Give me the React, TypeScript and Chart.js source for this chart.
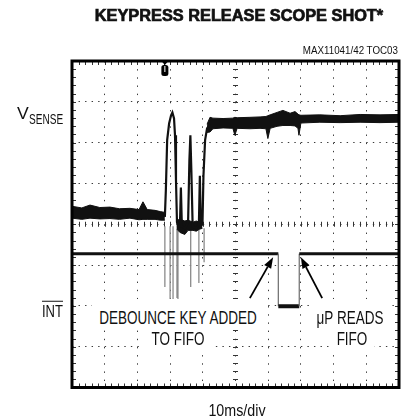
import React, { useEffect, useRef } from "react";
import { Chart, registerables } from "chart.js";

Chart.register(...registerables);

// ---- scope geometry (divisions) ----
const X_DIVS = 10;
const Y_DIVS = 8;
const MINOR = 5;

// ---- V_SENSE: pre-release noise band (low level) ----
const lowBandX = [0, 0.3, 0.55, 0.85, 1.16, 1.45, 1.77, 2.05, 2.17, 2.3, 2.54, 2.7, 2.84];
const lowBandHi = [4.44, 4.4, 4.47, 4.41, 4.42, 4.38, 4.39, 4.36, 4.55, 4.36, 4.34, 4.31, 4.29];
const lowBandLo = [4.15, 4.12, 4.15, 4.13, 4.14, 4.12, 4.15, 4.11, 4.12, 4.12, 4.12, 4.1, 4.1];

// ---- V_SENSE: bounce low band ----
const bounceBandX = [3.21, 3.3, 3.45, 3.55, 3.7, 3.8, 3.9, 3.99];
const bounceBandHi = [4.1, 4.12, 4.08, 4.1, 4.05, 4.08, 4.05, 4.05];
const bounceBandLo = [3.88, 3.8, 3.75, 3.85, 3.85, 3.83, 3.88, 3.9];

// ---- V_SENSE: released (high level) noise band ----
const highBandX = [4.13, 4.22, 4.31, 4.62, 4.92, 4.98, 5.05, 5.44, 5.75, 5.93, 5.99, 6.06, 6.27, 6.45, 6.67, 6.82, 6.91, 6.94, 7.0, 7.58, 8.2, 8.81, 9.42, 10];
const highBandHi = [6.45, 6.62, 6.6, 6.59, 6.6, 6.62, 6.61, 6.62, 6.63, 6.64, 6.66, 6.68, 6.74, 6.79, 6.72, 6.76, 6.7, 6.68, 6.67, 6.68, 6.66, 6.69, 6.68, 6.69];
const highBandLo = [6.25, 6.26, 6.34, 6.36, 6.35, 6.18, 6.35, 6.34, 6.35, 6.34, 6.1, 6.35, 6.4, 6.42, 6.42, 6.41, 6.35, 6.18, 6.48, 6.5, 6.49, 6.5, 6.49, 6.5];

// ---- V_SENSE: contact bounce trace ----
const bounceX = [2.84, 2.87, 2.91, 2.97, 3.03, 3.07, 3.12, 3.15, 3.18, 3.21, 3.24, 3.3, 3.33, 3.36, 3.46, 3.55, 3.59, 3.62, 3.65, 3.69, 3.79, 3.88, 3.91, 3.94, 3.99, 4.02, 4.07, 4.13, 4.22];
const bounceY = [4.18, 4.83, 6.06, 6.47, 6.67, 6.74, 6.59, 6.18, 5.08, 4.05, 3.95, 3.95, 4.9, 3.95, 3.9, 4.05, 5.57, 6.18, 5.32, 3.95, 3.9, 3.98, 5.19, 4.0, 4.0, 5.19, 6.06, 6.35, 6.45];

// ---- INT (active-low) ----
const intX = [0, 6.31, 6.31, 6.95, 6.95, 10];
const intY = [3.28, 3.28, 1.99, 1.99, 3.28, 3.28];

// ---- INT glitches coupled from bounce ----
const glitchX = [2.84, 3.0, 3.09, 3.21, 3.24, 3.63, 3.88, 4.04];
const glitchTop = [3.95, 3.95, 3.95, 3.95, 3.95, 3.95, 3.95, 3.9];
const glitchBottom = [2.46, 2.14, 2.14, 2.19, 2.02, 2.46, 2.56, 3.07];

// ---- trigger marker ----
const triggerX = 2.84;

// ---- annotation arrows (tail -> tip) ----
const arrowTailX = [5.44, 7.65];
const arrowTailY = [2.19, 2.19];
const arrowTipX = [6.15, 7.0];
const arrowTipY = [3.19, 3.19];

const pts = (xs: number[], ys: (number | null)[]) => xs.map((x, i) => ({ x, y: ys[i] }));

const decor = {
  id: "scopeDecor",
  beforeDatasetsDraw(chart: any) {
    const { ctx, chartArea: a, scales } = chart;
    const xs = scales.x;
    const ys = scales.y;
    ctx.save();
    ctx.strokeStyle = "#333";
    ctx.lineWidth = 1;
    ctx.beginPath();
    const cy = ys.getPixelForValue(Y_DIVS / 2);
    const cx = xs.getPixelForValue(X_DIVS / 2);
    for (let k = 0; k <= X_DIVS * MINOR; k++) {
      const px = Math.round(xs.getPixelForValue(k / MINOR)) + 0.5;
      ctx.moveTo(px, cy - 2.5);
      ctx.lineTo(px, cy + 2.5);
      ctx.moveTo(px, a.top);
      ctx.lineTo(px, a.top + 4);
      ctx.moveTo(px, a.bottom);
      ctx.lineTo(px, a.bottom - 4);
    }
    for (let k = 0; k <= Y_DIVS * MINOR; k++) {
      const py = Math.round(ys.getPixelForValue(k / MINOR)) + 0.5;
      ctx.moveTo(cx - 2.5, py);
      ctx.lineTo(cx + 2.5, py);
      ctx.moveTo(a.left, py);
      ctx.lineTo(a.left + 4, py);
      ctx.moveTo(a.right, py);
      ctx.lineTo(a.right - 4, py);
    }
    ctx.stroke();
    ctx.restore();
  },
  afterDatasetsDraw(chart: any) {
    const { ctx, chartArea: a, scales } = chart;
    const xs = scales.x;
    const ys = scales.y;
    ctx.save();
    // frame
    ctx.strokeStyle = "#000";
    ctx.lineWidth = 3;
    ctx.strokeRect(a.left, a.top, a.right - a.left, a.bottom - a.top);
    // trigger marker
    const tx = xs.getPixelForValue(triggerX);
    ctx.fillStyle = "#000";
    ctx.beginPath();
    ctx.moveTo(tx - 3.5, a.top);
    ctx.lineTo(tx + 3.5, a.top);
    ctx.lineTo(tx, a.top + 4);
    ctx.closePath();
    ctx.fill();
    ctx.beginPath();
    ctx.roundRect(tx - 3.5, a.top + 4, 7, 11, 2.5);
    ctx.fill();
    ctx.fillStyle = "#fff";
    ctx.fillRect(tx - 0.5, a.top + 5, 1, 6);
    // arrows
    ctx.strokeStyle = "#000";
    ctx.fillStyle = "#000";
    ctx.lineWidth = 1.8;
    for (let i = 0; i < arrowTipX.length; i++) {
      const x0 = xs.getPixelForValue(arrowTailX[i]);
      const y0 = ys.getPixelForValue(arrowTailY[i]);
      const x1 = xs.getPixelForValue(arrowTipX[i]);
      const y1 = ys.getPixelForValue(arrowTipY[i]);
      const ang = Math.atan2(y1 - y0, x1 - x0);
      const hl = 11;
      const hw = 4;
      const bx = x1 - hl * Math.cos(ang);
      const by = y1 - hl * Math.sin(ang);
      ctx.beginPath();
      ctx.moveTo(x0, y0);
      ctx.lineTo(bx, by);
      ctx.stroke();
      ctx.beginPath();
      ctx.moveTo(x1, y1);
      ctx.lineTo(bx + hw * Math.sin(ang), by - hw * Math.cos(ang));
      ctx.lineTo(bx - hw * Math.sin(ang), by + hw * Math.cos(ang));
      ctx.closePath();
      ctx.fill();
    }
    ctx.restore();
  },
};

const FONT = '"Liberation Sans", Arial, sans-serif';

function Label(props: {
  x: number;
  y: number;
  size: number;
  sx?: number;
  anchor?: "left" | "center" | "right";
  bold?: boolean;
  heavy?: boolean;
  overline?: boolean;
  children: React.ReactNode;
}) {
  const { x, y, size, sx = 1, anchor = "center", bold, heavy, overline, children } = props;
  const tx = anchor === "center" ? "-50%" : anchor === "right" ? "-100%" : "0";
  const origin = anchor === "center" ? "center" : anchor === "right" ? "right" : "left";
  return (
    <div
      style={{
        position: "absolute",
        left: x,
        top: y,
        transform: `translate(${tx}, -50%) scaleX(${sx})`,
        transformOrigin: `${origin} center`,
        fontFamily: FONT,
        fontSize: size,
        lineHeight: 1,
        fontWeight: bold ? 700 : 400,
        whiteSpace: "nowrap",
        color: "#111",
        WebkitTextStroke: heavy ? "0.7px #111" : undefined,
        textDecoration: overline ? "overline" : "none",
        textDecorationThickness: overline ? "1.2px" : undefined,
      }}
    >
      {children}
    </div>
  );
}

function WhiteBox(props: { l: number; t: number; r: number; b: number }) {
  const { l, t, r, b } = props;
  return <div style={{ position: "absolute", left: l, top: t, width: r - l, height: b - t, background: "#fff" }} />;
}

export default function App() {
  const ref = useRef<HTMLCanvasElement>(null);

  useEffect(() => {
    if (!ref.current) return;
    const bandStyle = { borderColor: "#111", borderWidth: 1, pointRadius: 0, tension: 0 };
    const chart = new Chart(ref.current, {
      type: "line",
      data: {
        datasets: [
          { label: "lowHi", data: pts(lowBandX, lowBandHi), fill: false, order: 2, ...bandStyle },
          { label: "lowLo", data: pts(lowBandX, lowBandLo), fill: "-1", backgroundColor: "#111", order: 2, ...bandStyle },
          { label: "bounceHi", data: pts(bounceBandX, bounceBandHi), fill: false, order: 2, ...bandStyle },
          { label: "bounceLo", data: pts(bounceBandX, bounceBandLo), fill: "-1", backgroundColor: "#111", order: 2, ...bandStyle },
          { label: "highHi", data: pts(highBandX, highBandHi), fill: false, order: 2, ...bandStyle },
          { label: "highLo", data: pts(highBandX, highBandLo), fill: "-1", backgroundColor: "#111", order: 2, ...bandStyle },
          {
            label: "V_SENSE",
            data: pts(bounceX, bounceY),
            borderColor: "#111",
            borderWidth: 2.2,
            pointRadius: 0,
            tension: 0,
            fill: false,
            order: 1,
          },
          {
            label: "INT",
            data: pts(intX, intY),
            borderColor: "#111",
            borderWidth: 3,
            pointRadius: 0,
            tension: 0,
            fill: false,
            order: 1,
            segment: {
              borderColor: (c: any) => (c.p0.parsed.x === c.p1.parsed.x ? "#777" : "#111"),
              borderWidth: (c: any) =>
                c.p0.parsed.x === c.p1.parsed.x ? 1.3 : c.p0.parsed.y < 2.5 ? 4 : 3,
            },
          },
          {
            label: "glitch",
            data: glitchX.flatMap((x, i) => [
              { x, y: glitchTop[i] },
              { x, y: glitchBottom[i] },
              { x, y: null as any },
            ]),
            borderColor: "#8a8a8a",
            borderWidth: 1.3,
            pointRadius: 0,
            spanGaps: false,
            fill: false,
            order: 5,
          },
        ],
      },
      options: {
        animation: false,
        responsive: false,
        devicePixelRatio: 1,
        parsing: true,
        layout: { padding: { left: 72, right: 2, top: 61, bottom: 31.5 } },
        plugins: {
          legend: { display: false },
          tooltip: { enabled: false },
          title: { display: false },
        },
        elements: { point: { radius: 0 } },
        scales: {
          x: {
            type: "linear",
            min: 0,
            max: X_DIVS,
            ticks: { display: false, stepSize: 1 },
            grid: { color: "#3a3a3a", lineWidth: 1, drawTicks: false },
            border: { display: false, dash: [1.4, 6.77] },
          },
          y: {
            type: "linear",
            min: 0,
            max: Y_DIVS,
            ticks: { display: false, stepSize: 1 },
            grid: { color: "#3a3a3a", lineWidth: 1, drawTicks: false },
            border: { display: false, dash: [1.4, 5.14] },
          },
        },
      },
      plugins: [decor],
    } as any);
    return () => chart.destroy();
  }, []);

  return (
    <div
      style={{
        position: "fixed",
        left: 0,
        top: 0,
        width: 401,
        height: 419,
        background: "#fff",
        overflow: "hidden",
      }}
    >
      <canvas ref={ref} width={401} height={419} style={{ display: "block", position: "absolute", left: 0, top: 0 }} />
      <Label x={238.5} y={15.8} size={16} sx={1.02} bold heavy>
        KEYPRESS RELEASE SCOPE SHOT*
      </Label>
      <Label x={398} y={50} size={11} sx={0.89} anchor="right">
        MAX11041/42 TOC03
      </Label>
      <Label x={17} y={114.2} size={16} sx={1.1} anchor="left">
        V
      </Label>
      <Label x={29} y={119.3} size={14} sx={0.72} anchor="left">
        SENSE
      </Label>
      <Label x={63} y={311} size={16.5} sx={0.79} anchor="right" overline>
        INT
      </Label>
      <WhiteBox l={92} t={299} r={264} b={329} />
      <WhiteBox l={142} t={329} r={214} b={350} />
      <WhiteBox l={309} t={299} r={392} b={329} />
      <WhiteBox l={330} t={329} r={374} b={350} />
      <Label x={178} y={317.5} size={18} sx={0.75}>
        DEBOUNCE KEY ADDED
      </Label>
      <Label x={178} y={338.5} size={18} sx={0.75}>
        TO FIFO
      </Label>
      <Label x={350} y={317.5} size={18} sx={0.75}>
        μP READS
      </Label>
      <Label x={352} y={338.5} size={18} sx={0.75}>
        FIFO
      </Label>
      <Label x={236.5} y={410} size={17} sx={0.84}>
        10ms/div
      </Label>
    </div>
  );
}
